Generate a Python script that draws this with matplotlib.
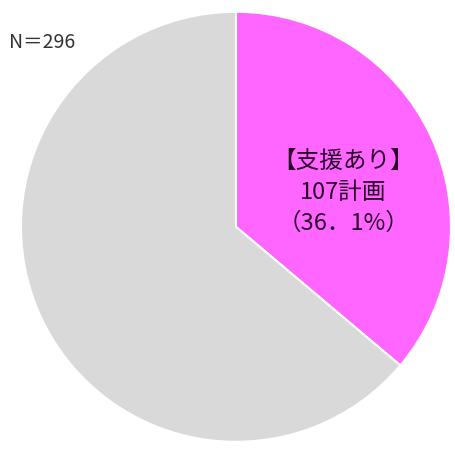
import matplotlib
matplotlib.use('Agg')
import matplotlib.pyplot as plt

plt.rcParams['font.family'] = ['Noto Sans CJK JP', 'DejaVu Sans']

# データ
labels = ['支援あり', 'その他']
counts = [107, 189]
colors = ['#ff66ff', '#d9d9d9']
total = 296

fig = plt.figure(figsize=(4.56, 4.5), dpi=100)
ax = fig.add_axes([0.046, 0.018, 0.943, 0.956])

ax.pie(counts, colors=colors, startangle=90, counterclock=False,
       radius=1.0, wedgeprops=dict(edgecolor='white', linewidth=1.5))
ax.set_xlim(-1, 1)
ax.set_ylim(-1, 1)
ax.set_aspect('equal')

# ラベル
pct = counts[0] / total * 100
ax.text(0.50, 0.16, f'【{labels[0]}】\n{counts[0]}計画\n（{pct:.1f}%）'.replace('.', '．'),
        ha='center', va='center', fontsize=17, color='#2a002a', linespacing=1.45)

fig.text(0.02, 0.905, f'N＝{total}', fontsize=14, color='#333333',
         ha='left', va='center')

fig.savefig('out.png', dpi=100)
